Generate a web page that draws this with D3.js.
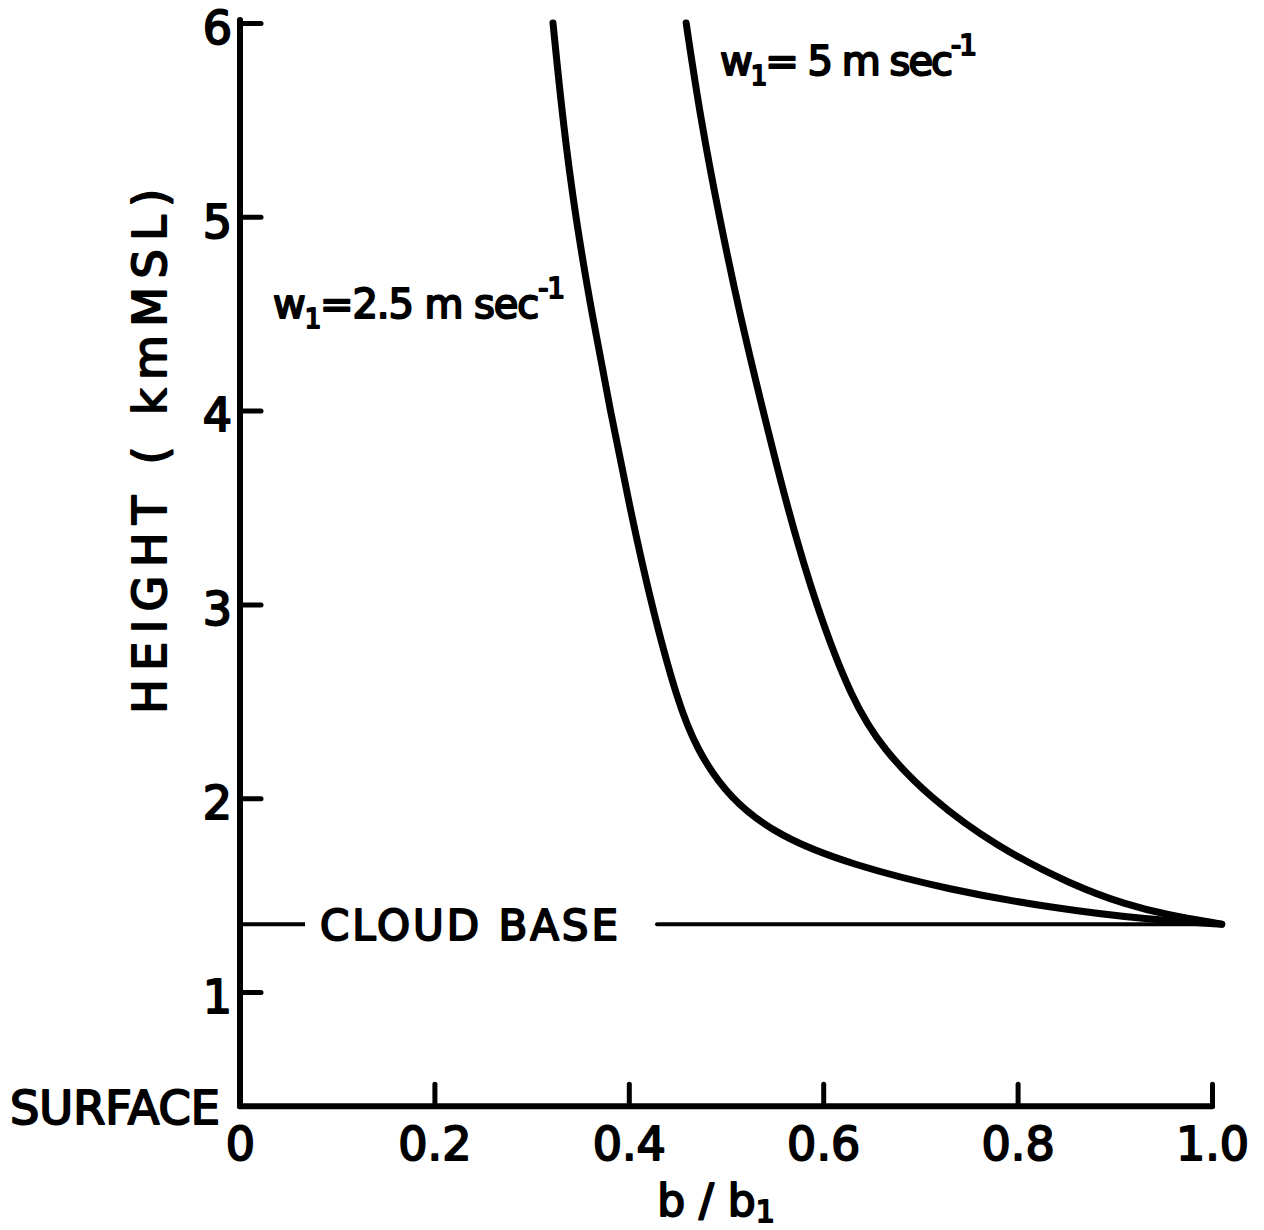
<!DOCTYPE html>
<html>
<head>
<meta charset="utf-8">
<script src="https://cdn.jsdelivr.net/npm/d3@7/dist/d3.min.js"></script>
<style>
  html, body { margin: 0; padding: 0; background: #fff; }
  svg text { font-family: "DejaVu Sans", sans-serif; fill: #000; stroke: #000; stroke-width: 2px; paint-order: stroke; stroke-linejoin: round; }
</style>
</head>
<body>
<svg id="chart" width="1264" height="1230"></svg>
<script>
// ---- data ----
const xTicks = [0, 0.2, 0.4, 0.6, 0.8, 1.0];
const xTickLabels = ["0", "0.2", "0.4", "0.6", "0.8", "1.0"];
const yTicks = [1, 2, 3, 4, 5, 6];
const yTickLabels = ["1", "2", "3", "4", "5", "6"];
const surfaceHeight = 0.41;     // km MSL, bottom of plot
const cloudBase = 1.35;         // km MSL

// w1 = 2.5 m/s : b/b1 vs height (km)
const ratio25  = [0.322, 0.332, 0.345, 0.362, 0.381, 0.401, 0.423, 0.450, 0.470, 0.503, 0.555, 0.630, 0.730, 0.833, 0.936, 1.010];
const height25 = [6.00,  5.50,  5.00,  4.50,  4.00,  3.50,  3.00,  2.50,  2.25,  2.00,  1.80,  1.655, 1.527, 1.435, 1.372, 1.35];
// w1 = 5 m/s
const ratio5   = [0.459, 0.474, 0.493, 0.514, 0.538, 0.563, 0.592, 0.630, 0.662, 0.710, 0.778, 0.857, 0.912, 0.952, 1.010];
const height5  = [6.00,  5.50,  5.00,  4.50,  4.00,  3.50,  3.00,  2.50,  2.25,  2.00,  1.75,  1.55,  1.45,  1.40,  1.35];

// ---- scales ----
const x = d3.scaleLinear().domain([0, 1]).range([240, 1212]);
const y = d3.scaleLinear().domain([1, 6]).range([992, 23]);

const svg = d3.select("#chart");

// ---- axes ----
const yAxis = d3.axisLeft(y).tickValues(yTicks).tickSizeInner(-21).tickSizeOuter(0)
  .tickPadding(12).tickFormat((d, i) => yTickLabels[i]);
const yG = svg.append("g").attr("transform", `translate(${x(0)},0)`).call(yAxis);
yG.select(".domain").attr("d", `M0,${y(surfaceHeight)}V${y(6) - 3}`)
  .attr("stroke", "#000").attr("stroke-width", 6).attr("stroke-linecap", "round");
yG.selectAll(".tick line").attr("stroke", "#000").attr("stroke-width", 5).attr("stroke-linecap", "round");
yG.selectAll(".tick text").attr("font-size", 46).attr("x", -8).attr("text-anchor", "end")
  .attr("dy", "0.44em").style("font-family", "DejaVu Sans");

const xAxis = d3.axisBottom(x).tickValues(xTicks).tickSizeInner(-22).tickSizeOuter(0)
  .tickPadding(12).tickFormat((d, i) => xTickLabels[i]);
const xG = svg.append("g").attr("transform", `translate(0,${y(surfaceHeight)})`).call(xAxis);
xG.select(".domain").attr("d", `M${x(0)},0H${x(1)}`)
  .attr("stroke", "#000").attr("stroke-width", 6).attr("stroke-linecap", "round");
xG.selectAll(".tick line").attr("stroke", "#000").attr("stroke-width", 5).attr("stroke-linecap", "round");
xG.selectAll(".tick text").attr("font-size", 46).attr("dy", "0.9em").style("font-family", "DejaVu Sans");

// ---- axis titles ----
svg.append("text")
  .attr("transform", `translate(${x(0) - 74},${y(3.79)}) rotate(-90)`)
  .attr("text-anchor", "middle").attr("font-size", 46)
  .attr("textLength", 525).attr("lengthAdjust", "spacing")
  .text("HEIGHT ( kmMSL)");

const xt = svg.append("text").attr("x", 716).attr("y", 1216).attr("text-anchor", "middle").attr("font-size", 44);
xt.append("tspan").text("b / b");
xt.append("tspan").attr("font-size", 30).attr("dy", 6).text("1");

svg.append("text").attr("x", 10).attr("y", y(surfaceHeight) + 18)
  .attr("font-size", 46).attr("textLength", 210).attr("lengthAdjust", "spacingAndGlyphs")
  .text("SURFACE");

// ---- cloud base ----
svg.append("line").attr("x1", x(0)).attr("x2", 305).attr("y1", y(cloudBase)).attr("y2", y(cloudBase))
  .attr("stroke", "#000").attr("stroke-width", 4);
svg.append("text").attr("x", 320).attr("y", y(cloudBase) + 16).attr("font-size", 42)
  .attr("textLength", 298).attr("lengthAdjust", "spacing").text("CLOUD BASE");
svg.append("line").attr("x1", 657).attr("x2", x(1.01)).attr("y1", y(cloudBase)).attr("y2", y(cloudBase))
  .attr("stroke", "#000").attr("stroke-width", 4).attr("stroke-linecap", "round");

// ---- curves ----
const line = d3.line().x(d => x(d[0])).y(d => y(d[1])).curve(d3.curveBasis);
const series = [d3.zip(ratio25, height25), d3.zip(ratio5, height5)];
svg.selectAll("path.curve").data(series).join("path").attr("class", "curve")
  .attr("d", line).attr("fill", "none").attr("stroke", "#000")
  .attr("stroke-width", 7).attr("stroke-linecap", "round");

// ---- labels ----
function wLabel(px, py, value, len) {
  const t = svg.append("text").attr("x", px).attr("y", py).attr("font-size", 40)
    .attr("textLength", len).attr("lengthAdjust", "spacing");
  t.append("tspan").text("w");
  t.append("tspan").attr("font-size", 26).attr("dy", 10).text("1");
  t.append("tspan").attr("dy", -10).text("=" + value + " m sec");
  t.append("tspan").attr("font-size", 28).attr("dy", -20).text("-1");
}
wLabel(273, 318, "2.5", 292);
wLabel(720, 75, " 5", 257);
</script>
</body>
</html>
